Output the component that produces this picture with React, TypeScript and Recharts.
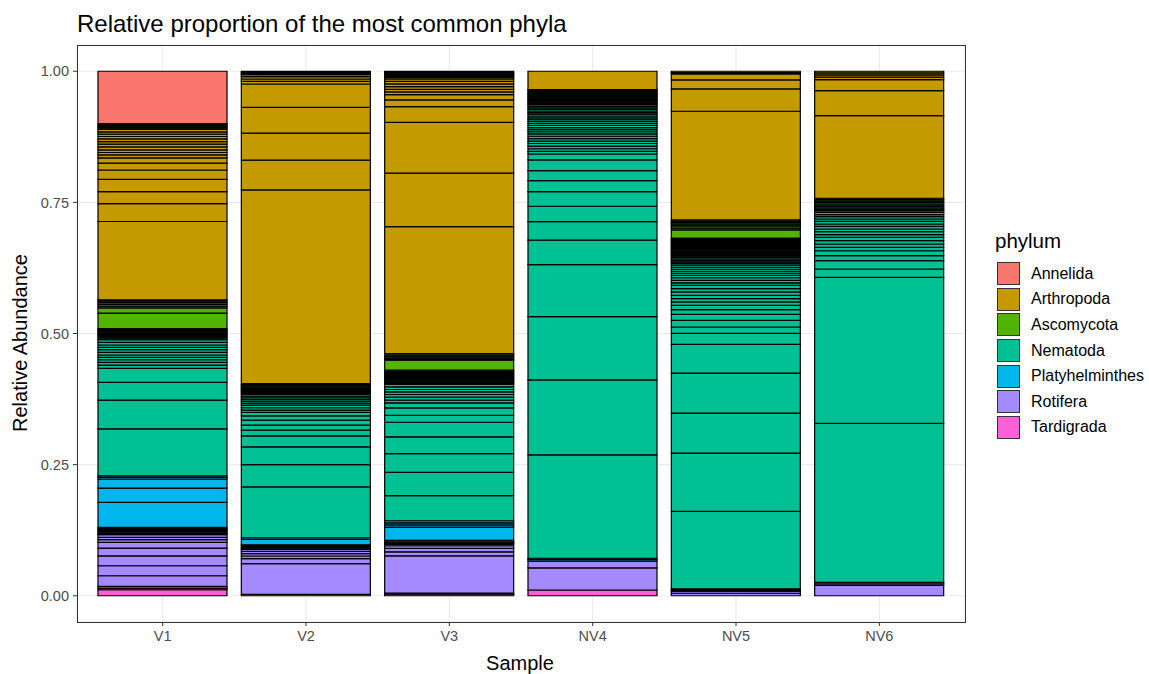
import { BarChart, Bar, Cell, XAxis, YAxis, CartesianGrid } from "recharts";

// Segment sizes per sample and phylum, bottom of each phylum block first.
const samples = ["V1", "V2", "V3", "NV4", "NV5", "NV6"];
const yTicks = [0, 0.25, 0.5, 0.75, 1];
const minorTicks = [0.125, 0.375, 0.625, 0.875];

// stacking order, bottom -> top
const phyla = ["Tardigrada", "Rotifera", "Platyhelminthes", "Nematoda", "Ascomycota", "Arthropoda", "Annelida"];
const legendOrder = ["Annelida", "Arthropoda", "Ascomycota", "Nematoda", "Platyhelminthes", "Rotifera", "Tardigrada"];

const COLORS: Record<string, string> = {
  Annelida: "#F8766D",
  Arthropoda: "#C49A00",
  Ascomycota: "#53B400",
  Nematoda: "#00C094",
  Platyhelminthes: "#00B6EB",
  Rotifera: "#A58AFF",
  Tardigrada: "#FB61D7",
};

const v1: Record<string, number[]> = {
  Tardigrada: [0.0115, 0.0032, 0.0032],
  Rotifera: [0.0202, 0.019, 0.019, 0.0147, 0.0109, 0.005, 0.0046, 0.005, 0.0023, 0.0023, 0.0023, 0.0023, 0.0023, 0.0023],
  Platyhelminthes: [0.0476, 0.0272, 0.0171, 0.0031, 0.0031],
  Nematoda: [
    0.0895, 0.0547, 0.0337, 0.0267, 0.0063, 0.0051, 0.005, 0.0046, 0.0044, 0.0051, 0.005, 0.0046, 0.0044, 0.0051,
    0.005, 0.0027, 0.0023, 0.0023, 0.0023, 0.0023, 0.0023, 0.0023, 0.0023, 0.0023,
  ],
  Ascomycota: [0.0293, 0.0101, 0.0034, 0.0034, 0.0034, 0.0026, 0.0026],
  Arthropoda: [
    0.149, 0.034, 0.023, 0.023, 0.018, 0.013, 0.01, 0.0057, 0.0046, 0.005, 0.0057, 0.0051, 0.0051, 0.005, 0.0046,
    0.0044, 0.0044, 0.0046, 0.0025, 0.0022, 0.0022, 0.0022, 0.0022,
  ],
  Annelida: [0.0995],
};

const v2: Record<string, number[]> = {
  Tardigrada: [0.0025],
  Rotifera: [0.0585, 0.0095, 0.0051, 0.0044, 0.0044, 0.0038, 0.0022, 0.0022, 0.0022, 0.0022],
  Platyhelminthes: [0.0101, 0.0032],
  Nematoda: [
    0.0966, 0.0425, 0.0337, 0.021, 0.0107, 0.0095, 0.0095, 0.0084, 0.0063, 0.0044, 0.0046, 0.005, 0.0038, 0.0038,
    0.0032, 0.0032, 0.003, 0.0032, 0.0023, 0.0023, 0.0023, 0.0023, 0.0023, 0.0023, 0.0023, 0.0023, 0.0023,
  ],
  Ascomycota: [],
  Arthropoda: [0.3682, 0.0566, 0.0514, 0.049, 0.0444, 0.0051, 0.0044, 0.0044, 0.0038, 0.0022, 0.0022, 0.0022],
  Annelida: [],
};

const v3: Record<string, number[]> = {
  Tardigrada: [0.003, 0.002],
  Rotifera: [0.071, 0.0076, 0.0065, 0.005, 0.0025, 0.0025, 0.0025, 0.0025],
  Platyhelminthes: [0.0255, 0.004, 0.004, 0.004],
  Nematoda: [
    0.0476, 0.0444, 0.0356, 0.0318, 0.0278, 0.0133, 0.0141, 0.0095, 0.005, 0.0057, 0.0051, 0.0051, 0.0044, 0.0051,
    0.0044, 0.002, 0.0021, 0.0021, 0.0021, 0.0021, 0.0021, 0.0021, 0.0021, 0.0021, 0.0021, 0.0021, 0.0021, 0.0021,
  ],
  Ascomycota: [0.019, 0.0023, 0.0023, 0.0027, 0.0027, 0.0027],
  Arthropoda: [
    0.2413, 0.1015, 0.0966, 0.0297, 0.0128, 0.0101, 0.0051, 0.0051, 0.005, 0.0051, 0.0051, 0.0044, 0.0032, 0.0023,
    0.0023, 0.0023, 0.0023, 0.0023,
  ],
  Annelida: [],
};

const nv4: Record<string, number[]> = {
  Tardigrada: [0.011],
  Rotifera: [0.042, 0.0128],
  Platyhelminthes: [0.0029, 0.0028],
  Nematoda: [
    0.197, 0.1429, 0.1206, 0.099, 0.0465, 0.0354, 0.0293, 0.0278, 0.021, 0.019, 0.0204, 0.0114, 0.005, 0.005, 0.005,
    0.005, 0.0046, 0.0046, 0.0046, 0.0046, 0.004, 0.004, 0.004, 0.004, 0.004, 0.0035, 0.0035, 0.0035, 0.0035, 0.0035,
    0.003, 0.003, 0.003, 0.003, 0.003, 0.003, 0.0024, 0.0024, 0.0024, 0.0024, 0.0024, 0.0024, 0.0024, 0.0024, 0.0024,
    0.0024, 0.0024, 0.0024,
  ],
  Ascomycota: [],
  Arthropoda: [0.035],
  Annelida: [],
};

const nv5: Record<string, number[]> = {
  Tardigrada: [],
  Rotifera: [0.0048, 0.0042],
  Platyhelminthes: [0.0022, 0.0022],
  Nematoda: [
    0.1472, 0.1112, 0.0762, 0.0762, 0.0545, 0.021, 0.0122, 0.0126, 0.0114, 0.009, 0.0082, 0.0065, 0.0063, 0.0063,
    0.0065, 0.0063, 0.0063, 0.0048, 0.0048, 0.0048, 0.0048, 0.0038, 0.0038, 0.0038, 0.0038, 0.0038, 0.003, 0.003,
    0.003, 0.003, 0.003, 0.0023, 0.0023, 0.0023, 0.0023, 0.0023, 0.0023, 0.0023, 0.0023, 0.0023, 0.0023, 0.0023,
    0.0023, 0.0023, 0.0023, 0.0023, 0.0023,
  ],
  Ascomycota: [0.0158, 0.0029, 0.0029, 0.0026, 0.0026, 0.0026, 0.0026, 0.0026],
  Arthropoda: [0.207, 0.0425, 0.0171, 0.0114, 0.0026, 0.0026],
  Annelida: [],
};

const nv6: Record<string, number[]> = {
  Tardigrada: [],
  Rotifera: [0.0196, 0.003, 0.003],
  Platyhelminthes: [],
  Nematoda: [
    0.3029, 0.2781, 0.0158, 0.0158, 0.0095, 0.0095, 0.0065, 0.0063, 0.0063, 0.0065, 0.005, 0.0057, 0.0051, 0.0051,
    0.0044, 0.0051, 0.0044, 0.0044, 0.0038, 0.0046, 0.003, 0.0026, 0.0026, 0.0026, 0.0026, 0.0026,
  ],
  Ascomycota: [0.0027, 0.0027, 0.0027, 0.0027],
  Arthropoda: [0.1573, 0.0476, 0.021, 0.0046, 0.0044, 0.0038, 0.0032],
  Annelida: [],
};

const sampleData = [v1, v2, v3, nv4, nv5, nv6];

// flatten each sample into s0..sN (bottom -> top) as relative abundance
const segPhyla: string[][] = [];
const rows = samples.map((name, i) => {
  const segs: [string, number][] = [];
  phyla.forEach((p) => (sampleData[i][p] || []).forEach((v) => segs.push([p, v])));
  const total = segs.reduce((a, s) => a + s[1], 0);
  const row: Record<string, string | number> = { sample: name };
  segs.forEach((s, k) => (row[`s${k}`] = s[1] / total));
  segPhyla.push(segs.map((s) => s[0]));
  return row;
});
const nSeg = Math.max(...segPhyla.map((s) => s.length));
const segKeys = Array.from({ length: nSeg }, (_, k) => `s${k}`);

const FONT = "'Liberation Sans', Arial, sans-serif";

export default function App() {
  return (
    <div style={{ position: "absolute", left: 0, top: 0, width: 1149, height: 674, background: "#fff", fontFamily: FONT }}>
      <BarChart width={1149} height={674} data={rows} margin={{ top: 45, right: 184, bottom: 0, left: 0 }}>
        <CartesianGrid stroke="#EBEBEB" strokeWidth={1.1} />
        <CartesianGrid
          stroke="#F2F2F2"
          strokeWidth={0.6}
          vertical={false}
          horizontalCoordinatesGenerator={(props: any) => {
            const sc = props?.yAxis?.scale;
            return typeof sc === "function" ? minorTicks.map((t) => sc(t)) : [];
          }}
        />
        <XAxis
          dataKey="sample"
          height={52}
          padding={{ left: 14, right: 14 }}
          axisLine={false}
          tickLine={{ stroke: "#333333" }}
          tickSize={4}
          tickMargin={5}
          tick={{ fill: "#4D4D4D", fontSize: 14.5, fontFamily: FONT }}
        />
        <YAxis
          type="number"
          width={77}
          domain={[-0.05, 1.05]}
          ticks={yTicks}
          allowDataOverflow
          axisLine={false}
          tickLine={{ stroke: "#333333" }}
          tickSize={4}
          tickMargin={4}
          tickFormatter={(v: number) => v.toFixed(2)}
          tick={{ fill: "#4D4D4D", fontSize: 14.5, fontFamily: FONT }}
        />
        {segKeys.map((key, k) => (
          <Bar
            key={key}
            dataKey={key}
            stackId="a"
            barSize={129}
            stroke="#000"
            strokeWidth={1.2}
            isAnimationActive={false}
          >
            {rows.map((_, i) => {
              const p = segPhyla[i][k];
              return <Cell key={i} fill={p ? COLORS[p] : "none"} stroke={p ? "#000" : "none"} />;
            })}
          </Bar>
        ))}
      </BarChart>

      {/* panel border */}
      <div
        style={{
          position: "absolute",
          left: 77,
          top: 45,
          width: 889,
          height: 578,
          boxSizing: "border-box",
          border: "1px solid #333333",
          pointerEvents: "none",
        }}
      />

      <div
        style={{
          position: "absolute",
          left: 77,
          top: 24,
          fontSize: 24,
          color: "#000",
          whiteSpace: "nowrap",
          transform: "translateY(-50%)",
        }}
      >
        Relative proportion of the most common phyla
      </div>
      <div
        style={{
          position: "absolute",
          left: 20,
          top: 343,
          fontSize: 20,
          whiteSpace: "nowrap",
          transform: "translate(-50%, -50%) rotate(-90deg)",
        }}
      >
        Relative Abundance
      </div>
      <div
        style={{
          position: "absolute",
          left: 520,
          top: 663,
          fontSize: 20,
          whiteSpace: "nowrap",
          transform: "translate(-50%, -50%)",
        }}
      >
        Sample
      </div>

      {/* legend */}
      <div style={{ position: "absolute", left: 995, top: 229 }}>
        <div style={{ fontSize: 20.5, lineHeight: "24px", marginBottom: 8 }}>phylum</div>
        {legendOrder.map((p) => (
          <div key={p} style={{ display: "flex", alignItems: "center", height: 25.6 }}>
            <div
              style={{
                width: 23,
                height: 23,
                boxSizing: "border-box",
                marginLeft: 2,
                background: COLORS[p],
                border: "1px solid #333",
              }}
            />
            <span style={{ marginLeft: 11, fontSize: 16, color: "#000" }}>{p}</span>
          </div>
        ))}
      </div>
    </div>
  );
}
